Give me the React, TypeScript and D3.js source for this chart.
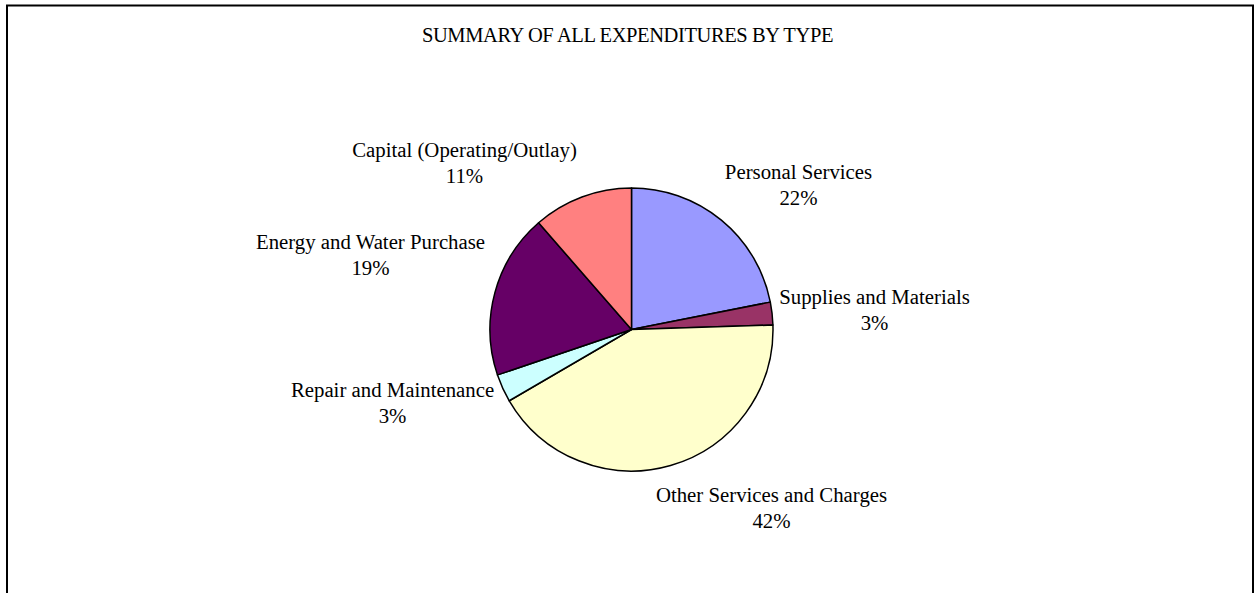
import { useRef, useEffect } from 'react'
import * as d3 from 'd3'

// slice order: clockwise from 12 o'clock
const categories = [
    'Personal Services',
    'Supplies and Materials',
    'Other Services and Charges',
    'Repair and Maintenance',
    'Energy and Water Purchase',
    'Capital (Operating/Outlay)',
]
const shares = [21.9, 2.6, 42.1, 3.2, 18.8, 11.4]
const sliceColors = ['#9999FF', '#993366', '#FFFFCC', '#CCFFFF', '#660066', '#FF8080']
const title = 'SUMMARY OF ALL EXPENDITURES BY TYPE'

// label centre (x) and first baseline (y), relative to the pie centre
const labelOffsets: [number, number][] = [
    [167, -151],
    [243, -26],
    [140, 172],
    [-239, 67],
    [-261, -81],
    [-167, -173],
]

const App = () => {
    const svgRef = useRef<SVGSVGElement>(null)

    useEffect(() => {
        const w = 1257
        const h = 593
        const cx = 631.5
        const cy = 329.5
        const r = 141.5
        const font = '"Liberation Serif", "Times New Roman", serif'
        const labelSize = 20.8

        const svg = d3.select(svgRef.current)
            .attr('width', w)
            .attr('height', h)
            .style('position', 'absolute')
            .style('left', 0)
            .style('top', 0)
            .style('background', '#fff')
        svg.selectAll('*').remove()

        // chart frame
        svg.append('rect')
            .attr('x', 7)
            .attr('y', 5.5)
            .attr('width', 1246)
            .attr('height', 620)
            .attr('fill', 'none')
            .attr('stroke', '#000')
            .attr('stroke-width', 2)

        svg.append('text')
            .attr('x', 627.5)
            .attr('y', 42)
            .attr('text-anchor', 'middle')
            .attr('font-family', font)
            .attr('font-size', 20.5)
            .attr('letter-spacing', -0.4)
            .text(title)

        const total = d3.sum(shares)
        const pie = d3.pie<number>().sort(null).value(d => d)
        const arcs = pie(shares)
        const arc = d3.arc<d3.PieArcDatum<number>>().innerRadius(0).outerRadius(r)

        const g = svg.append('g').attr('transform', `translate(${cx}, ${cy})`)
        g.selectAll('path')
            .data(arcs)
            .join('path')
                .attr('d', arc)
                .attr('fill', (d, i) => sliceColors[i])
                .attr('stroke', '#000')
                .attr('stroke-width', 1.5)
                .attr('stroke-linejoin', 'round')

        const labels = g.selectAll('g.label')
            .data(arcs)
            .join('g')
                .attr('class', 'label')
                .attr('transform', (d, i) => `translate(${labelOffsets[i][0]}, ${labelOffsets[i][1]})`)
        labels.append('text')
            .attr('text-anchor', 'middle')
            .attr('font-family', font)
            .attr('font-size', labelSize)
            .text((d, i) => categories[i])
        labels.append('text')
            .attr('y', 26)
            .attr('text-anchor', 'middle')
            .attr('font-family', font)
            .attr('font-size', labelSize)
            .text(d => `${Math.round(d.data / total * 100)}%`)
    }, [])

    return (
        <div>
            <svg ref={svgRef}></svg>
        </div>
    )
}

export default App
